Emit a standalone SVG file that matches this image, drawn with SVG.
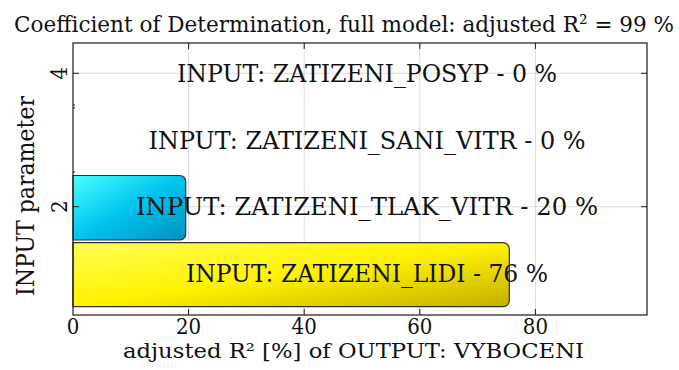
<svg xmlns="http://www.w3.org/2000/svg" width="679" height="370" viewBox="0 0 679 370">
  <style>
    text { font-family: 'DejaVu Serif Condensed', 'DejaVu Serif', serif; font-stretch: condensed; fill: #111; }
    .grid { stroke: #dcdcdc; stroke-width: 1; fill: none; }
    .axis { stroke: #1a1a1a; stroke-width: 1.2; fill: none; }
    .tick { stroke: #1a1a1a; stroke-width: 1; }
    .bar { stroke: #333; stroke-width: 1.2; }
    .lbl { font-size: 24px; text-anchor: middle; }
    .tl { font-size: 22px; text-anchor: middle; }
  </style>
  <defs>
    <linearGradient id="gCyan" x1="0" y1="0" x2="1" y2="1">
      <stop offset="0" stop-color="#48ffff"/>
      <stop offset="0.5" stop-color="#00c4ee"/>
      <stop offset="1" stop-color="#0092c0"/>
    </linearGradient>
    <linearGradient id="gYellow" x1="0" y1="0" x2="1" y2="1">
      <stop offset="0" stop-color="#ffff55"/>
      <stop offset="0.5" stop-color="#fff200"/>
      <stop offset="1" stop-color="#c4b000"/>
    </linearGradient>
  </defs>

  <rect width="679" height="370" fill="#ffffff"/>

  <!-- title -->
  <text x="14" y="32" font-size="23" textLength="660" lengthAdjust="spacingAndGlyphs">Coefficient of Determination, full model: adjusted R² =  99 %</text>

  <!-- grid -->
  <g id="grid">
    <line class="grid" x1="188.6" y1="43" x2="188.6" y2="315"/>
    <line class="grid" x1="304.2" y1="43" x2="304.2" y2="315"/>
    <line class="grid" x1="419.8" y1="43" x2="419.8" y2="315"/>
    <line class="grid" x1="535.4" y1="43" x2="535.4" y2="315"/>
    <line class="grid" x1="73" y1="73.3" x2="647" y2="73.3"/>
    <line class="grid" x1="73" y1="206.7" x2="647" y2="206.7"/>
  </g>

  <!-- bars -->
  <g id="bar1">
    <path class="bar" fill="url(#gYellow)" d="M73,242.7 H503.3 A6,6 0 0 1 509.3,248.7 V300.7 A6,6 0 0 1 503.3,306.7 H73 Z"/>
  </g>
  <g id="bar2">
    <path class="bar" fill="url(#gCyan)" d="M73,175.5 H179.7 A6,6 0 0 1 185.7,181.5 V234 A6,6 0 0 1 179.7,240 H73 Z"/>
  </g>
  <g id="bar3">
    <line class="tick" x1="73" y1="108" x2="75" y2="108"/>
    <line class="tick" x1="73" y1="172" x2="75" y2="172"/>
  </g>
  <g id="bar4">
    <line class="tick" x1="73" y1="105" x2="75" y2="105"/>
  </g>

  <!-- axes box and ticks -->
  <g id="axes">
    <rect class="axis" x="73" y="43" width="574" height="272"/>
    <path class="tick" d="M188.6,315 v-6 M304.2,315 v-6 M419.8,315 v-6 M535.4,315 v-6
                          M188.6,43 v6 M304.2,43 v6 M419.8,43 v6 M535.4,43 v6
                          M73,73.3 h6 M73,206.7 h6 M647,73.3 h-6 M647,206.7 h-6"/>
  </g>

  <!-- bar labels -->
  <g id="labels">
    <text class="lbl" x="367" y="82" textLength="380" lengthAdjust="spacingAndGlyphs">INPUT: ZATIZENI_POSYP - 0 %</text>
    <text class="lbl" x="367" y="149" textLength="437" lengthAdjust="spacingAndGlyphs">INPUT: ZATIZENI_SANI_VITR - 0 %</text>
    <text class="lbl" x="367" y="215" textLength="462" lengthAdjust="spacingAndGlyphs">INPUT: ZATIZENI_TLAK_VITR - 20 %</text>
    <text class="lbl" x="367" y="282" textLength="362" lengthAdjust="spacingAndGlyphs">INPUT: ZATIZENI_LIDI - 76 %</text>
  </g>

  <!-- tick labels -->
  <g id="xticks">
    <text class="tl" x="73" y="334">0</text>
    <text class="tl" x="188.6" y="334">20</text>
    <text class="tl" x="304.2" y="334">40</text>
    <text class="tl" x="419.8" y="334">60</text>
    <text class="tl" x="535.4" y="334">80</text>
  </g>
  <g id="yticks">
    <text class="tl" transform="translate(67,73.3) rotate(-90)">4</text>
    <text class="tl" transform="translate(67,206.7) rotate(-90)">2</text>
  </g>

  <!-- axis labels -->
  <text x="123" y="358" font-size="21" textLength="461" lengthAdjust="spacingAndGlyphs">adjusted R² [%] of OUTPUT: VYBOCENI</text>
  <text font-size="24" text-anchor="middle" transform="translate(34,196) rotate(-90)" textLength="200" lengthAdjust="spacingAndGlyphs">INPUT parameter</text>
</svg>
